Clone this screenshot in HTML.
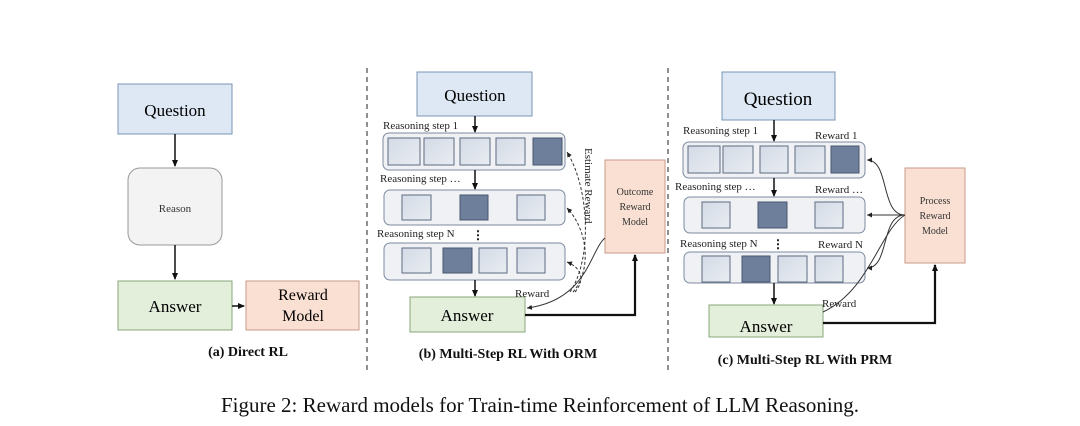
<html><head><style>body{margin:0;background:#fff}</style></head><body>
<svg width="1080" height="426" viewBox="0 0 1080 426" xmlns="http://www.w3.org/2000/svg" font-family="Liberation Serif, serif">
<defs>
<marker id="ah" markerWidth="8" markerHeight="8" refX="6" refY="4" orient="auto" markerUnits="userSpaceOnUse"><path d="M0,1 L7,4 L0,7 z" fill="#111"/></marker>
<marker id="as" markerWidth="6" markerHeight="6" refX="5" refY="3" orient="auto" markerUnits="userSpaceOnUse"><path d="M0,0.5 L5,3 L0,5.5 z" fill="#222"/></marker>
<linearGradient id="lg" x1="0" y1="0" x2="1" y2="1"><stop offset="0" stop-color="#d4dbe6"/><stop offset="1" stop-color="#e8ecf2"/></linearGradient>
</defs>
<style>
.q{fill:#dde8f4;stroke:#7b94b5;stroke-width:1}
.a{fill:#e3eedb;stroke:#8aa67c;stroke-width:1}
.r{fill:#f9e0d2;stroke:#c79a86;stroke-width:1}
.row{fill:#eff1f5;stroke:#7d8aa0;stroke-width:1}
.s{fill:url(#lg);stroke:#5e6c82;stroke-width:1}
.d{fill:#6e7f9c;stroke:#4a576e;stroke-width:1}
.l{stroke:#111;stroke-width:1.5;fill:none}
.t{stroke:#111;stroke-width:2.2;fill:none}
.c{stroke:#333;stroke-width:1;fill:none}
.dash{stroke:#333;stroke-width:1;fill:none;stroke-dasharray:3,2}
.sm{font-size:11px;fill:#222}
.b{font-size:14px;font-weight:bold;fill:#111}
</style>
<!-- dividers -->
<line x1="367" y1="68" x2="367" y2="370" stroke="#222" stroke-dasharray="5,4"/>
<line x1="668" y1="68" x2="668" y2="370" stroke="#222" stroke-dasharray="5,4"/>

<!-- Panel a -->
<rect class="q" x="118" y="84" width="114" height="50"/>
<text x="175" y="116" font-size="17" text-anchor="middle">Question</text>
<line class="l" x1="175" y1="134" x2="175" y2="166" marker-end="url(#ah)"/>
<rect x="128" y="168" width="94" height="77" rx="12" fill="#f3f3f3" stroke="#999"/>
<text x="175" y="212" font-size="11" text-anchor="middle" fill="#333">Reason</text>
<line class="l" x1="175" y1="245" x2="175" y2="279" marker-end="url(#ah)"/>
<rect class="a" x="118" y="281" width="114" height="49"/>
<text x="175" y="312" font-size="17" text-anchor="middle">Answer</text>
<line class="l" x1="232" y1="306" x2="244" y2="306" marker-end="url(#ah)"/>
<rect class="r" x="246" y="281" width="113" height="49"/>
<text x="303" y="300" font-size="16" text-anchor="middle">Reward</text>
<text x="303" y="321" font-size="16" text-anchor="middle">Model</text>
<text x="248" y="356" class="b" text-anchor="middle">(a) Direct RL</text>

<!-- Panel b -->
<rect class="q" x="417" y="72" width="115" height="44"/>
<text x="475" y="101" font-size="17" text-anchor="middle">Question</text>
<text x="383" y="129" class="sm">Reasoning step 1</text>
<line class="l" x1="475" y1="116" x2="475" y2="132" marker-end="url(#ah)"/>
<rect class="row" x="383" y="133" width="182" height="37" rx="6"/>
<rect class="s" x="388" y="138" width="32" height="27"/><rect class="s" x="424" y="138" width="30" height="27"/><rect class="s" x="460" y="138" width="30" height="27"/><rect class="s" x="496" y="138" width="29" height="27"/><rect class="d" x="533" y="138" width="29" height="27"/>
<text x="380" y="182" class="sm">Reasoning step …</text>
<line class="l" x1="475" y1="170" x2="475" y2="189" marker-end="url(#ah)"/>
<rect class="row" x="384" y="190" width="181" height="35" rx="6"/>
<rect class="s" x="402" y="195" width="29" height="25"/><rect class="d" x="460" y="195" width="28" height="25"/><rect class="s" x="517" y="195" width="28" height="25"/>
<text x="377" y="237" class="sm">Reasoning step N</text>
<text x="472" y="239" font-size="12" font-weight="bold">⋮</text>
<rect class="row" x="384" y="243" width="181" height="37" rx="6"/>
<rect class="s" x="402" y="248" width="29" height="25"/><rect class="d" x="443" y="248" width="29" height="25"/><rect class="s" x="479" y="248" width="28" height="25"/><rect class="s" x="517" y="248" width="28" height="25"/>
<line class="l" x1="475" y1="280" x2="475" y2="296" marker-end="url(#ah)"/>
<rect class="a" x="410" y="297" width="115" height="35"/>
<text x="467" y="321" font-size="17" text-anchor="middle">Answer</text>
<rect class="r" x="605" y="160" width="60" height="93"/>
<text x="635" y="195" font-size="10" text-anchor="middle" fill="#333">Outcome</text>
<text x="635" y="210" font-size="10" text-anchor="middle" fill="#333">Reward</text>
<text x="635" y="225" font-size="10" text-anchor="middle" fill="#333">Model</text>
<path class="t" d="M525,315 L635,315 L635,255" marker-end="url(#ah)"/>
<path class="c" d="M605,238 C590,250 588,300 527,308" marker-end="url(#as)"/>
<path class="dash" d="M570,292 C592,260 590,190 567,152" marker-end="url(#as)"/>
<path class="dash" d="M573,292 C592,270 588,230 567,208" marker-end="url(#as)"/>
<path class="dash" d="M575,292 C585,280 582,268 567,262" marker-end="url(#as)"/>
<text transform="translate(585,148) rotate(90)" font-size="11" fill="#222">Estimate Reward</text>
<text x="515" y="297" class="sm">Reward</text>
<text x="508" y="358" class="b" text-anchor="middle">(b) Multi-Step RL With ORM</text>

<!-- Panel c -->
<rect class="q" x="722" y="72" width="113" height="48"/>
<text x="778" y="105" font-size="19" text-anchor="middle">Question</text>
<text x="683" y="134" class="sm">Reasoning step 1</text>
<text x="815" y="139" class="sm">Reward 1</text>
<line class="l" x1="774" y1="120" x2="774" y2="141" marker-end="url(#ah)"/>
<rect class="row" x="683" y="142" width="182" height="36" rx="6"/>
<rect class="s" x="688" y="146" width="32" height="27"/><rect class="s" x="723" y="146" width="30" height="27"/><rect class="s" x="760" y="146" width="28" height="27"/><rect class="s" x="795" y="146" width="30" height="27"/><rect class="d" x="831" y="146" width="28" height="27"/>
<text x="675" y="190" class="sm">Reasoning step …</text>
<text x="815" y="193" class="sm">Reward  …</text>
<line class="l" x1="774" y1="178" x2="774" y2="196" marker-end="url(#ah)"/>
<rect class="row" x="684" y="197" width="181" height="36" rx="6"/>
<rect class="s" x="702" y="202" width="28" height="26"/><rect class="d" x="758" y="202" width="29" height="26"/><rect class="s" x="815" y="202" width="28" height="26"/>
<text x="680" y="247" class="sm">Reasoning step N</text>
<text x="772" y="248" font-size="12" font-weight="bold">⋮</text>
<text x="818" y="248" class="sm">Reward N</text>
<rect class="row" x="684" y="252" width="181" height="31" rx="6"/>
<rect class="s" x="702" y="256" width="28" height="26"/><rect class="d" x="742" y="256" width="28" height="26"/><rect class="s" x="778" y="256" width="29" height="26"/><rect class="s" x="815" y="256" width="28" height="26"/>
<line class="l" x1="774" y1="283" x2="774" y2="304" marker-end="url(#ah)"/>
<rect class="a" x="709" y="305" width="114" height="32"/>
<text x="766" y="332" font-size="17" text-anchor="middle">Answer</text>
<rect class="r" x="905" y="168" width="60" height="95"/>
<text x="935" y="204" font-size="10" text-anchor="middle" fill="#333">Process</text>
<text x="935" y="219" font-size="10" text-anchor="middle" fill="#333">Reward</text>
<text x="935" y="234" font-size="10" text-anchor="middle" fill="#333">Model</text>
<path class="t" d="M823,323 L935,323 L935,265" marker-end="url(#ah)"/>
<path class="c" d="M905,215 C880,215 890,160 867,160" marker-end="url(#as)"/>
<path class="c" d="M905,215 L867,215" marker-end="url(#as)"/>
<path class="c" d="M905,215 C880,215 890,268 867,268" marker-end="url(#as)"/>
<path class="c" d="M905,215 C880,230 870,290 823,312"/>
<text x="822" y="307" class="sm">Reward</text>
<text x="805" y="364" class="b" text-anchor="middle">(c) Multi-Step RL With PRM</text>

<text x="540" y="412" font-size="21" text-anchor="middle" fill="#111">Figure 2: Reward models for Train-time Reinforcement of LLM Reasoning.</text>
</svg>
</body></html>
